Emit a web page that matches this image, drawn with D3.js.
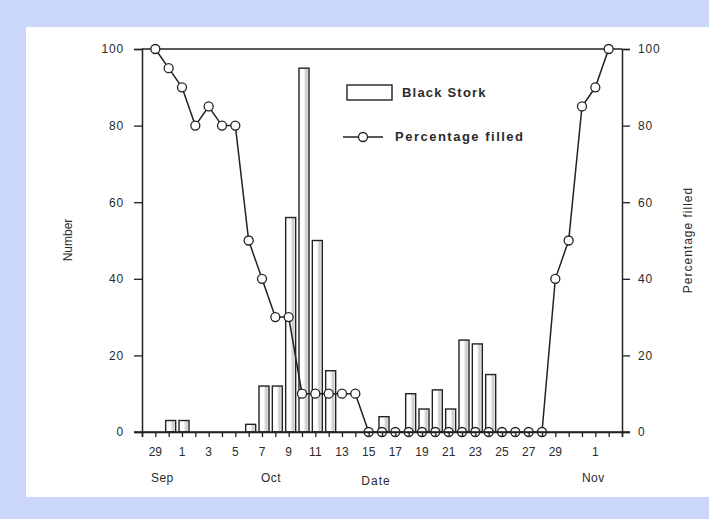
<!DOCTYPE html>
<html>
<head>
<meta charset="utf-8">
<script src="https://cdn.jsdelivr.net/npm/d3@7"></script>
<style>
body { margin: 0; background: #cbd6fb; }
text { font-family: "Liberation Sans", Arial, sans-serif; fill: #2a2a2a; }
</style>
</head>
<body>
<div id="chart"></div>
<script>
// days shown, Sep 29 .. Nov 2
var days = ["09-29", "09-30", "10-01", "10-02", "10-03", "10-04", "10-05", "10-06",
    "10-07", "10-08", "10-09", "10-10", "10-11", "10-12", "10-13", "10-14", "10-15",
    "10-16", "10-17", "10-18", "10-19", "10-20", "10-21", "10-22", "10-23", "10-24",
    "10-25", "10-26", "10-27", "10-28", "10-29", "10-30", "10-31", "11-01", "11-02"];
// Black Stork counts per day
var storkCount = [0, 3, 3, 0, 0, 0, 0, 2, 12, 12, 56, 95, 50, 16, 0, 0, 0,
    4, 0, 10, 6, 11, 6, 24, 23, 15, 0, 0, 0, 0, 0, 0, 0, 0, 0];
// percentage filled per day
var pctFilled = [100, 95, 90, 80, 85, 80, 80, 50, 40, 30, 30, 10, 10, 10, 10, 10, 0,
    0, 0, 0, 0, 0, 0, 0, 0, 0, 0, 0, 0, 0, 40, 50, 85, 90, 100];
var dayLabels = ["09-29", "10-01", "10-03", "10-05", "10-07", "10-09", "10-11", "10-13",
    "10-15", "10-17", "10-19", "10-21", "10-23", "10-25", "10-27", "10-29", "11-01"];
var monthLabels = ["Sep", "Oct", "Nov"];
var monthAt = ["09-29", "10-07", "11-01"];
var yTicks = [0, 20, 40, 60, 80, 100];

var width = 709, height = 519;
var plotLeft = 142, plotRight = 622, plotTop = 49, plotBottom = 432;
var monthShift = [7, 9, -2];

var parse = d3.timeParse("%Y-%m-%d");
function toDate(s) { return parse("2000-" + s); }

svg = d3.select("#chart").append("svg")
    .attr("width", width)
    .attr("height", height);
// white panel
svg.append("rect")
    .attr("x", 26).attr("y", 27)
    .attr("width", width - 26).attr("height", 470)
    .attr("fill", "#fff");

// scales
x_scale = d3.scaleTime()
    .domain([toDate("09-28"), toDate("11-03")])
    .range([plotLeft, plotRight]);
y_scale = d3.scaleLinear()
    .domain([0, 100])
    .range([plotBottom, plotTop]);

// bar shading
defs = svg.append("defs");
grad = defs.append("linearGradient").attr("id", "barFill");
grad.append("stop").attr("offset", "0%").attr("stop-color", "#fff");
grad.append("stop").attr("offset", "45%").attr("stop-color", "#fff");
grad.append("stop").attr("offset", "75%").attr("stop-color", "#c8c8c8");
grad.append("stop").attr("offset", "100%").attr("stop-color", "#fff");

// frame top
svg.append("line")
    .attr("x1", plotLeft).attr("x2", plotRight)
    .attr("y1", plotTop).attr("y2", plotTop)
    .attr("stroke", "#222").attr("stroke-width", 1.5);

// bars
barWidth = 10;
svg.append("g").selectAll("rect")
    .data(days.map((d, i) => ({date: toDate(d), v: storkCount[i]}))
        .filter(d => d.v > 0))
    .enter().append("rect")
    .attr("x", d => x_scale(d.date) - barWidth / 2 + 2)
    .attr("y", d => y_scale(d.v))
    .attr("width", barWidth)
    .attr("height", d => plotBottom - y_scale(d.v))
    .attr("fill", "url(#barFill)")
    .attr("stroke", "#222")
    .attr("stroke-width", 1.4);

// percentage line
pts = days.map((d, i) => ({date: toDate(d), v: pctFilled[i]}));
line = d3.line()
    .x(d => x_scale(d.date))
    .y(d => y_scale(d.v));
svg.append("path")
    .datum(pts)
    .attr("d", line)
    .attr("fill", "none")
    .attr("stroke", "#222")
    .attr("stroke-width", 1.5);
svg.append("g").selectAll("circle")
    .data(pts).enter()
    .append("circle")
    .attr("cx", d => x_scale(d.date))
    .attr("cy", d => y_scale(d.v))
    .attr("r", 4.5)
    .attr("fill", "#fff")
    .attr("stroke", "#222")
    .attr("stroke-width", 1.3);

// axes
y_axis_left = d3.axisLeft(y_scale).tickValues(yTicks).tickSize(8).tickPadding(10);
y_axis_right = d3.axisRight(y_scale).tickValues(yTicks).tickSize(8).tickPadding(8);
gl = svg.append("g").attr("transform", "translate(" + plotLeft + ",0)").call(y_axis_left);
gr = svg.append("g").attr("transform", "translate(" + plotRight + ",0)").call(y_axis_right);
x_axis = d3.axisBottom(x_scale)
    .ticks(d3.timeDay.every(1))
    .tickSize(5)
    .tickFormat("");
gx = svg.append("g").attr("transform", "translate(0," + plotBottom + ")").call(x_axis);
[gl, gr, gx].forEach(g => {
    g.select(".domain").attr("stroke", "#222").attr("stroke-width", 1.5);
    g.selectAll(".tick line").attr("stroke", "#222").attr("stroke-width", 1.3);
    g.selectAll("text").style("font-size", "12px").attr("fill", "#333")
        .style("letter-spacing", "0.8px")
        .style("font-family", "'Liberation Sans', Arial, sans-serif");
});
// extend baseline to both ticks
svg.append("line")
    .attr("x1", plotLeft - 8).attr("x2", plotRight + 8)
    .attr("y1", plotBottom).attr("y2", plotBottom)
    .attr("stroke", "#222").attr("stroke-width", 1.5);

// day labels
svg.append("g").selectAll("text")
    .data(dayLabels).enter()
    .append("text")
    .attr("x", d => x_scale(toDate(d)))
    .attr("y", 456)
    .attr("text-anchor", "middle")
    .style("font-size", "12px")
    .text(d => +d.slice(3));
svg.append("g").selectAll("text")
    .data(monthLabels).enter()
    .append("text")
    .attr("x", (d, i) => x_scale(toDate(monthAt[i])) + monthShift[i])
    .attr("y", 482)
    .attr("text-anchor", "middle")
    .style("font-size", "12px")
    .style("letter-spacing", "0.5px")
    .text(d => d);

// axis titles
svg.append("text")
    .attr("x", 376).attr("y", 485)
    .attr("text-anchor", "middle")
    .style("font-size", "12px")
    .style("letter-spacing", "1px")
    .text("Date");
svg.append("text")
    .attr("transform", "translate(72,240) rotate(-90)")
    .attr("text-anchor", "middle")
    .style("font-size", "12px")
    .text("Number");
svg.append("text")
    .attr("transform", "translate(692,240) rotate(-90)")
    .attr("text-anchor", "middle")
    .style("font-size", "12px")
    .style("letter-spacing", "1px")
    .text("Percentage filled");

// legend
svg.append("rect")
    .attr("x", 347).attr("y", 85)
    .attr("width", 45).attr("height", 15)
    .attr("fill", "#fff")
    .attr("stroke", "#222").attr("stroke-width", 1.4);
svg.append("text")
    .attr("x", 402).attr("y", 97)
    .style("font-size", "13px")
    .style("font-weight", "bold")
    .style("letter-spacing", "1.2px")
    .text("Black Stork");
svg.append("line")
    .attr("x1", 343).attr("x2", 383)
    .attr("y1", 137).attr("y2", 137)
    .attr("stroke", "#222").attr("stroke-width", 1.5);
svg.append("circle")
    .attr("cx", 363).attr("cy", 137).attr("r", 4.5)
    .attr("fill", "#fff")
    .attr("stroke", "#222").attr("stroke-width", 1.3);
svg.append("text")
    .attr("x", 395).attr("y", 141)
    .style("font-size", "13px")
    .style("font-weight", "bold")
    .style("letter-spacing", "1.5px")
    .text("Percentage filled");
</script>
</body>
</html>
